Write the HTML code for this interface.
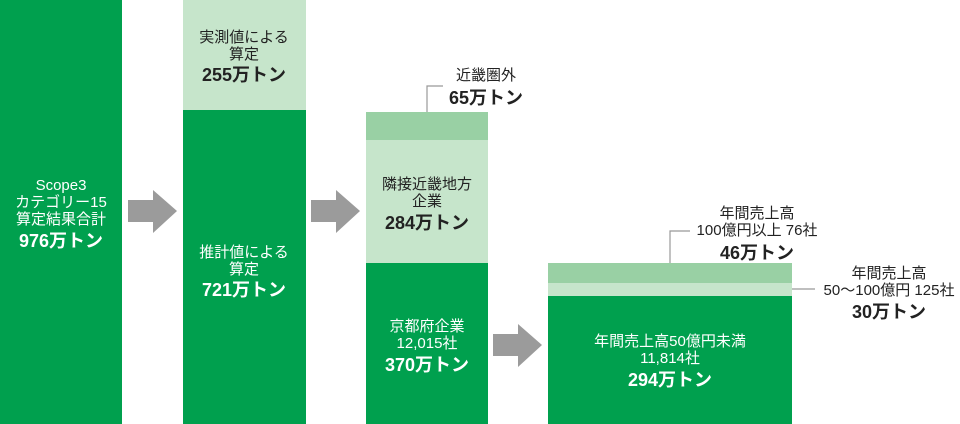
<!DOCTYPE html>
<html><head><meta charset="utf-8"><style>
html,body{margin:0;padding:0;background:#fff;}
svg{display:block;}
text{font-family:"Liberation Sans","Noto Sans CJK JP",sans-serif;text-anchor:middle;}
.w{fill:#fff;font-size:15px;}
.wb{fill:#fff;font-size:18px;font-weight:bold;}
.k{fill:#222;font-size:15px;}
.kb{fill:#222;font-size:18px;font-weight:bold;}
</style></head><body>
<svg width="960" height="424" viewBox="0 0 960 424">
<rect x="0" y="0" width="122" height="424" fill="#00a04e"/>
<text class="w" x="61" y="190">Scope3</text>
<text class="w" x="61" y="207">カテゴリー15</text>
<text class="w" x="61" y="224">算定結果合計</text>
<text class="wb" x="61" y="247">976万トン</text>
<polygon points="128,200 153,200 153,190 177,211 153,233 153,222 128,222" fill="#9b9b9b"/>
<polygon points="311,200 336,200 336,190 360,211 336,233 336,222 311,222" fill="#9b9b9b"/>
<polygon points="493,334 518,334 518,324 542,345 518,367 518,356 493,356" fill="#9b9b9b"/>
<rect x="183" y="0" width="123" height="110" fill="#c6e5cb"/>
<rect x="183" y="110" width="123" height="314" fill="#00a04e"/>
<text class="k" x="244" y="42">実測値による</text>
<text class="k" x="244" y="59">算定</text>
<text class="kb" x="244" y="81">255万トン</text>
<text class="w" x="244" y="257">推計値による</text>
<text class="w" x="244" y="274">算定</text>
<text class="wb" x="244" y="296">721万トン</text>
<rect x="366" y="112" width="122" height="28" fill="#99d0a4"/>
<rect x="366" y="140" width="122" height="123" fill="#c6e5cb"/>
<rect x="366" y="263" width="122" height="161" fill="#00a04e"/>
<polyline points="427,112 427,86 443,86" fill="none" stroke="#999" stroke-width="1.2"/>
<text class="k" x="486" y="80">近畿圏外</text>
<text class="kb" x="486" y="104">65万トン</text>
<text class="k" x="427" y="189">隣接近畿地方</text>
<text class="k" x="427" y="206">企業</text>
<text class="kb" x="427" y="229">284万トン</text>
<text class="w" x="427" y="331">京都府企業</text>
<text class="w" x="427" y="348">12,015社</text>
<text class="wb" x="427" y="371">370万トン</text>
<rect x="548" y="263" width="244" height="20" fill="#99d0a4"/>
<rect x="548" y="283" width="244" height="13" fill="#c6e5cb"/>
<rect x="548" y="296" width="244" height="128" fill="#00a04e"/>
<polyline points="670,263 670,231 690,231" fill="none" stroke="#999" stroke-width="1.2"/>
<line x1="792" y1="289" x2="815" y2="289" stroke="#999" stroke-width="1.2"/>
<text class="k" x="757" y="218">年間売上高</text>
<text class="k" x="757" y="235">100億円以上 76社</text>
<text class="kb" x="757" y="259">46万トン</text>
<text class="k" x="889" y="278">年間売上高</text>
<text class="k" x="889" y="295">50～100億円 125社</text>
<text class="kb" x="889" y="318">30万トン</text>
<text class="w" x="670" y="346">年間売上高50億円未満</text>
<text class="w" x="670" y="363">11,814社</text>
<text class="wb" x="670" y="386">294万トン</text>
</svg>
</body></html>
